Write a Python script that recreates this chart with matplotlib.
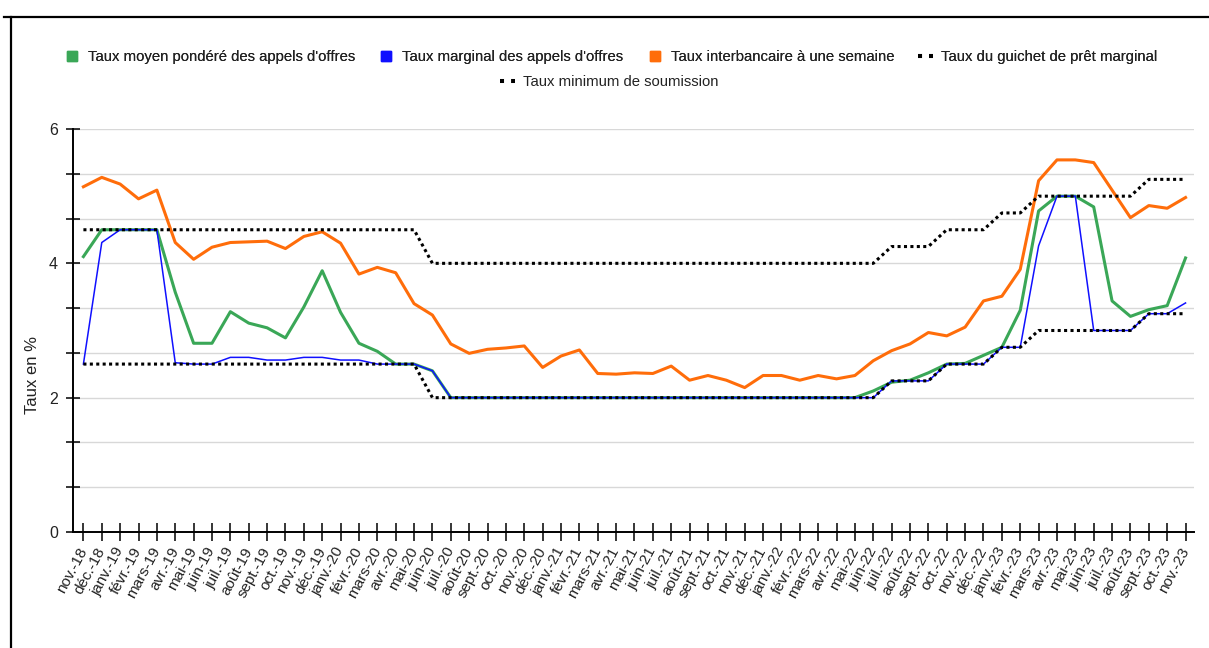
import matplotlib
matplotlib.use("Agg")
import matplotlib.pyplot as plt
import numpy as np
from matplotlib.lines import Line2D

plt.rcParams['font.family'] = ['Liberation Sans', 'DejaVu Sans']

months = ["nov.-18", "déc.-18", "janv.-19", "févr.-19", "mars-19", "avr.-19", "mai-19", "juin-19",
          "juil.-19", "août-19", "sept.-19", "oct.-19", "nov.-19", "déc.-19", "janv.-20", "févr.-20",
          "mars-20", "avr.-20", "mai-20", "juin-20", "juil.-20", "août-20", "sept.-20", "oct.-20",
          "nov.-20", "déc.-20", "janv.-21", "févr.-21", "mars-21", "avr.-21", "mai-21", "juin-21",
          "juil.-21", "août-21", "sept.-21", "oct.-21", "nov.-21", "déc.-21", "janv.-22", "févr.-22",
          "mars-22", "avr.-22", "mai-22", "juin-22", "juil.-22", "août-22", "sept.-22", "oct.-22",
          "nov.-22", "déc.-22", "janv.-23", "févr.-23", "mars-23", "avr.-23", "mai-23", "juin-23",
          "juil.-23", "août-23", "sept.-23", "oct.-23", "nov.-23"]

taux_moyen = [4.10, 4.50, 4.50, 4.50, 4.50, 3.57, 2.81, 2.81, 3.28, 3.11, 3.04, 2.89, 3.35, 3.89,
              3.27, 2.81, 2.69, 2.50, 2.50, 2.40, 2.00, 2.00, 2.00, 2.00, 2.00, 2.00, 2.00, 2.00,
              2.00, 2.00, 2.00, 2.00, 2.00, 2.00, 2.00, 2.00, 2.00, 2.00, 2.00, 2.00, 2.00, 2.00,
              2.00, 2.10, 2.23, 2.26, 2.37, 2.50, 2.51, 2.63, 2.75, 3.30, 4.78, 5.00, 5.00, 4.84,
              3.44, 3.21, 3.31, 3.37, 4.08]

taux_marginal = [2.50, 4.31, 4.50, 4.50, 4.50, 2.52, 2.50, 2.50, 2.60, 2.60, 2.56, 2.56, 2.60, 2.60,
                 2.56, 2.56, 2.50, 2.50, 2.50, 2.40, 2.00, 2.00, 2.00, 2.00, 2.00, 2.00, 2.00, 2.00,
                 2.00, 2.00, 2.00, 2.00, 2.00, 2.00, 2.00, 2.00, 2.00, 2.00, 2.00, 2.00, 2.00, 2.00,
                 2.00, 2.00, 2.25, 2.25, 2.25, 2.50, 2.50, 2.50, 2.75, 2.75, 4.26, 5.00, 5.00, 3.00,
                 3.00, 3.00, 3.25, 3.25, 3.41]

taux_interbancaire = [5.14, 5.28, 5.18, 4.96, 5.09, 4.31, 4.06, 4.24, 4.31, 4.32, 4.33, 4.22, 4.40,
                      4.47, 4.30, 3.84, 3.94, 3.86, 3.40, 3.23, 2.80, 2.66, 2.72, 2.74, 2.77, 2.45,
                      2.62, 2.71, 2.36, 2.35, 2.37, 2.36, 2.47, 2.26, 2.33, 2.26, 2.15, 2.33, 2.33,
                      2.26, 2.33, 2.28, 2.33, 2.55, 2.70, 2.80, 2.97, 2.92, 3.05, 3.44, 3.51, 3.91,
                      5.23, 5.54, 5.54, 5.50, 5.09, 4.68, 4.86, 4.82, 4.98]

taux_guichet = [4.50] * 19 + [4.00] * 25 + [4.25] * 3 + [4.50] * 3 + [4.75] * 2 + [5.00] * 6 + [5.25] * 3

taux_minimum = [2.50] * 19 + [2.00] * 25 + [2.25] * 3 + [2.50] * 3 + [2.75] * 2 + [3.00] * 6 + [3.25] * 3

labels = ["Taux moyen pondéré des appels d'offres", "Taux marginal des appels d'offres",
          "Taux interbancaire à une semaine", "Taux du guichet de prêt marginal",
          "Taux minimum de soumission"]

c_green = "#3aa757"
c_blue = "#1010ff"
c_orange = "#ff6d0a"
c_text = "#222222"

fig = plt.figure(figsize=(12.09, 6.48), dpi=100)
ax = fig.add_axes([73.3 / 1209, 1 - 532 / 648, (1194 - 73.3) / 1209, (532 - 129) / 648])

x = np.arange(len(months))
ax.plot(x, taux_moyen, color=c_green, lw=2.2, zorder=3)
ax.plot(x, taux_marginal, color=c_blue, lw=1.1, zorder=4)
ax.plot(x, taux_interbancaire, color=c_orange, lw=2.2, zorder=5)
dot = (0, (1, 1.1))
ax.plot(x, taux_guichet, color="black", lw=2.2, ls=dot, zorder=6)
ax.plot(x, taux_minimum, color="black", lw=2.2, ls=dot, zorder=6)

ax.set_xlim(-0.55, 60.46)
ax.set_ylim(0, 6)
ax.set_yticks([0, 2, 4, 6])
minor = [k * 2 / 3 for k in range(10) if k % 3 != 0]
ax.set_yticks(minor, minor=True)
ax.grid(True, which='both', axis='y', color="#d8d8d8", lw=1.0, zorder=0)
ax.set_axisbelow(True)

ax.set_xticks(x)
ax.set_xticklabels(months, rotation=62, ha='right', va='center', rotation_mode='anchor',
                   fontsize=11, color=c_text)
ax.tick_params(axis='x', direction='inout', length=13.5, width=1.1, color='black', pad=5)
ax.tick_params(axis='y', which='both', direction='inout', length=10, width=1.1, color='black',
               labelsize=11.5, labelcolor=c_text, pad=6)

for s in ['top', 'right']:
    ax.spines[s].set_visible(False)
for s in ['left', 'bottom']:
    ax.spines[s].set_linewidth(1.4)
    ax.spines[s].set_color('black')

ax.set_ylabel("Taux en %", fontsize=12, color=c_text, va='center')
ax.yaxis.set_label_coords((33 - 73.3) / 1120.7, (532 - 375) / 403)

# legend
def sq(c):
    return Line2D([], [], marker='s', markersize=6.5, color=c, ls='none')

def dots():
    return Line2D([], [], color='black', lw=2.9, ls=(0, (1, 1.75)))

leg_kw = dict(frameon=False, fontsize=10.7, handlelength=1.03, handletextpad=0.55,
              labelcolor=c_text)
h1 = [sq(c_green), sq(c_blue), sq(c_orange), dots()]
leg1 = fig.legend(h1, labels[:4], loc='center', bbox_to_anchor=(611 / 1209, 1 - 57 / 648), ncol=4,
                  columnspacing=1.6, **leg_kw)
leg2 = fig.legend([dots()], labels[4:], loc='center', bbox_to_anchor=(609 / 1209, 1 - 82 / 648),
                  **leg_kw)
fig.add_artist(leg1)

# frame lines
fig.add_artist(Line2D([4 / 1209, 1], [1 - 16.5 / 648, 1 - 16.5 / 648], color='black', lw=1.6,
                      transform=fig.transFigure))
fig.add_artist(Line2D([11 / 1209, 11 / 1209], [0, 1 - 16.5 / 648], color='black', lw=1.6,
                      transform=fig.transFigure))

fig.savefig("out.png", dpi=100)
